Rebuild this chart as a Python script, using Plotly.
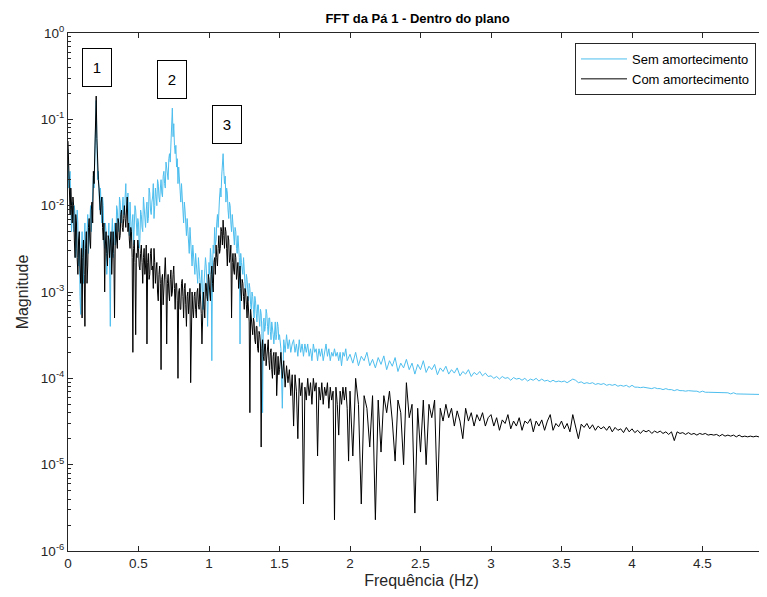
import numpy as np
import plotly.graph_objects as go

# ---------------- data ----------------
# frequency bins: 0-1.495 Hz every 0.005 Hz, 1.50-1.99 Hz every 0.01 Hz, 2.00-4.96 Hz every 0.02 Hz
seg_a_df, seg_a_n, seg_a_f0 = 0.005, 300, 0.0
seg_b_df, seg_b_n, seg_b_f0 = 0.01, 50, 1.5
seg_c_df, seg_c_n, seg_c_f0 = 0.02, 149, 2.0

# "Sem amortecimento" magnitudes, 0.000-1.495 Hz
sem_a = [
    4.5e-2, 1.6e-2, 2.0e-2, 2.5e-2, 1.0e-2, 5.0e-3, 1.1e-2, 6.3e-3, 5.0e-3, 1.0e-2,
    7.9e-3, 2.5e-3, 3.2e-3, 8.9e-3, 6.3e-3, 2.0e-3, 4.0e-3, 8.9e-4, 5.5e-4, 2.8e-3,
    5.0e-3, 2.0e-3, 1.26e-3, 4.0e-3, 6.3e-3, 2.0e-3, 3.2e-3, 5.6e-3, 7.9e-3, 2.8e-3,
    4.0e-3, 7.1e-3, 1.0e-2, 5.0e-3, 7.9e-3, 1.4e-2, 2.2e-2, 1.6e-2, 3.2e-2, 4.5e-2,
    1.65e-1, 5.0e-2, 2.0e-2, 2.5e-2, 1.26e-2, 8.9e-3, 1.6e-2, 1.0e-2, 6.3e-3, 1.26e-2,
    1.0e-2, 4.0e-3, 3.2e-3, 6.3e-3, 5.0e-3, 1.6e-3, 2.5e-3, 4.0e-3, 6.3e-3, 2.0e-3,
    4.0e-4, 3.2e-3, 5.0e-3, 7.1e-3, 2.5e-3, 4.0e-3, 6.3e-3, 3.5e-3, 4.0e-3, 1.0e-2,
    8.9e-3, 5.6e-3, 5.0e-3, 1.26e-2, 1.1e-2, 7.1e-3, 6.3e-3, 8.9e-3, 1.26e-2, 7.9e-3,
    7.9e-3, 1.26e-2, 1.8e-2, 8.9e-3, 1.0e-2, 1.4e-2, 6.3e-3, 4.5e-3, 1.1e-2, 7.1e-3,
    4.0e-3, 6.3e-3, 7.9e-3, 3.5e-3, 5.0e-3, 1.0e-2, 8.9e-3, 5.6e-3, 4.5e-3, 7.1e-3,
    6.3e-3, 3.2e-3, 4.0e-3, 8.9e-3, 7.9e-3, 5.6e-3, 5.0e-3, 1.26e-2, 1.0e-2, 6.3e-3,
    5.6e-3, 8.9e-3, 1.1e-2, 6.3e-3, 7.1e-3, 1.6e-2, 1.4e-2, 8.9e-3, 7.9e-3, 1.1e-2,
    1.26e-2, 1.8e-2, 7.1e-3, 1.0e-2, 1.6e-2, 1.26e-2, 1.0e-2, 2.0e-2, 1.8e-2, 1.26e-2,
    1.1e-2, 1.6e-2, 2.0e-2, 1.4e-2, 1.26e-2, 2.2e-2, 2.5e-2, 1.8e-2, 1.6e-2, 3.2e-2,
    2.8e-2, 2.2e-2, 2.0e-2, 3.5e-2, 4.0e-2, 3.2e-2, 5.6e-2, 7.9e-2, 1.35e-1, 6.3e-2,
    8.9e-2, 5.0e-2, 4.0e-2, 5.0e-2, 2.8e-2, 3.5e-2, 1.8e-2, 2.8e-2, 2.2e-2, 1.4e-2,
    1.1e-2, 1.8e-2, 1.4e-2, 8.9e-3, 6.3e-3, 1.1e-2, 8.9e-3, 5.6e-3, 4.5e-3, 7.1e-3,
    5.0e-3, 3.5e-3, 2.8e-3, 5.6e-3, 4.0e-3, 2.5e-3, 2.0e-3, 3.5e-3, 2.8e-3, 1.8e-3,
    1.6e-3, 2.8e-3, 2.2e-3, 1.4e-3, 1.26e-3, 2.5e-3, 2.0e-3, 1.4e-3, 1.0e-3, 1.6e-3,
    1.8e-3, 6.3e-4, 6.3e-4, 1.26e-3, 1.6e-3, 2.5e-3, 2.0e-3, 1.26e-3, 4.0e-4, 1.8e-3,
    2.2e-3, 1.6e-3, 3.2e-3, 2.5e-3, 1.6e-4, 2.0e-3, 3.5e-3, 2.8e-3, 5.6e-3, 3.5e-3,
    4.0e-3, 6.3e-3, 7.9e-3, 5.6e-3, 1.0e-2, 1.26e-2, 1.6e-2, 1.26e-2, 2.2e-2, 2.8e-2,
    4.0e-2, 2.5e-2, 1.8e-2, 2.2e-2, 1.1e-2, 1.6e-2, 1.4e-2, 8.9e-3, 7.1e-3, 1.1e-2,
    1.0e-2, 6.3e-3, 5.0e-3, 7.9e-3, 6.3e-3, 4.0e-3, 3.5e-3, 5.6e-3, 5.0e-3, 3.2e-3,
    2.8e-3, 4.5e-3, 3.5e-3, 2.5e-3, 2.5e-4, 2.8e-3, 2.2e-3, 1.8e-3, 1.6e-3, 2.5e-3,
    2.0e-3, 1.26e-3, 1.0e-3, 1.6e-3, 1.4e-3, 1.0e-3, 7.9e-4, 1.26e-3, 1.1e-3, 7.1e-4,
    6.3e-4, 1.0e-3, 8.9e-4, 6.3e-4, 5.0e-4, 8.9e-4, 7.9e-4, 5.6e-4, 4.5e-4, 7.1e-4,
    7.1e-4, 5.0e-4, 4.0e-4, 6.3e-4, 5.6e-4, 3.5e-4, 4.0e-5, 4.5e-4, 5.0e-4, 3.5e-4,
    4.0e-4, 6.3e-4, 5.6e-4, 4.0e-4, 3.2e-4, 5.0e-4, 5.0e-4, 3.5e-4, 2.8e-4, 4.5e-4,
    4.0e-4, 3.2e-4, 2.5e-4, 4.0e-4, 4.5e-4, 2.8e-4, 3.2e-4, 4.5e-4, 4.0e-4, 2.8e-4,
]

# "Com amortecimento" magnitudes, 0.000-1.495 Hz
com_a = [
    5.6e-2, 2.5e-2, 1.26e-2, 7.9e-3, 1.6e-2, 1.0e-2, 6.3e-3, 1.26e-2, 1.0e-2, 4.0e-3,
    2.5e-3, 7.9e-3, 6.3e-3, 2.5e-3, 1.6e-3, 4.0e-3, 5.0e-3, 2.0e-3, 1.26e-3, 3.2e-3,
    5.0e-4, 2.5e-3, 4.0e-3, 1.6e-3, 4.0e-4, 3.2e-3, 5.0e-3, 1.26e-3, 2.0e-3, 5.6e-3,
    7.1e-3, 4.0e-3, 3.2e-3, 8.9e-3, 1.1e-2, 6.3e-3, 2.5e-2, 1.8e-2, 5.0e-2, 7.0e-2,
    1.86e-1, 6.0e-2, 2.5e-2, 2.0e-2, 1.6e-2, 1.0e-2, 7.9e-3, 1.1e-2, 1.26e-2, 5.6e-3,
    4.0e-3, 6.3e-3, 1.0e-3, 3.5e-3, 5.0e-3, 2.8e-3, 2.0e-3, 4.5e-3, 4.0e-3, 2.5e-3,
    3.2e-3, 5.0e-3, 1.6e-3, 3.5e-3, 5.0e-3, 2.8e-3, 5.0e-4, 4.0e-3, 6.3e-3, 4.0e-3,
    3.2e-3, 7.1e-3, 6.3e-3, 4.0e-3, 4.5e-3, 7.9e-3, 8.9e-3, 5.6e-3, 5.0e-3, 7.1e-3,
    1.0e-2, 7.1e-3, 5.6e-3, 8.9e-3, 1.26e-2, 5.0e-3, 6.3e-3, 4.0e-3, 3.2e-3, 5.6e-3,
    5.0e-3, 2.5e-3, 2.0e-4, 3.2e-3, 4.0e-3, 2.2e-3, 3.2e-4, 2.8e-3, 2.5e-3, 4.0e-3,
    3.2e-3, 2.0e-3, 1.8e-3, 2.8e-3, 3.5e-3, 2.2e-3, 1.26e-3, 2.5e-3, 3.2e-3, 1.6e-3,
    2.0e-3, 3.5e-3, 2.5e-4, 2.2e-3, 2.8e-3, 1.4e-3, 1.6e-3, 2.8e-3, 3.2e-3, 1.8e-3,
    2.0e-3, 1.1e-3, 3.2e-3, 2.2e-3, 1.26e-3, 1.8e-3, 2.2e-3, 1.0e-3, 7.9e-4, 1.6e-3,
    2.0e-3, 1.26e-3, 1.26e-4, 1.4e-3, 1.6e-3, 7.1e-4, 1.0e-3, 2.0e-3, 2.5e-3, 1.4e-3,
    2.5e-4, 1.26e-3, 1.6e-3, 1.0e-3, 7.9e-4, 1.4e-3, 1.8e-3, 8.9e-4, 1.0e-3, 1.6e-3,
    2.0e-3, 1.1e-3, 6.3e-4, 1.26e-3, 1.26e-3, 7.9e-4, 1.0e-4, 1.0e-3, 1.1e-3, 6.3e-4,
    6.3e-4, 1.26e-3, 1.4e-3, 8.9e-4, 5.0e-4, 1.1e-3, 1.26e-3, 7.1e-4, 4.0e-4, 8.9e-4,
    1.0e-3, 5.6e-4, 7.1e-4, 1.1e-3, 8.9e-5, 7.9e-4, 1.0e-3, 6.3e-4, 5.0e-4, 8.9e-4,
    1.0e-3, 6.3e-4, 5.0e-4, 1.0e-3, 1.1e-3, 7.1e-4, 6.3e-4, 1.26e-3, 8.9e-4, 5.6e-4,
    2.5e-4, 8.9e-4, 1.0e-3, 7.1e-4, 5.0e-4, 1.26e-3, 1.26e-3, 8.9e-4, 7.9e-4, 1.6e-3,
    1.4e-3, 1.0e-3, 7.9e-4, 1.6e-3, 2.0e-3, 1.26e-3, 1.0e-3, 2.2e-3, 2.5e-3, 1.6e-3,
    3.5e-3, 2.5e-3, 2.0e-3, 3.2e-3, 4.5e-3, 2.8e-3, 3.2e-3, 5.6e-3, 5.0e-3, 3.5e-3,
    6.8e-3, 4.5e-3, 3.2e-3, 5.6e-3, 5.0e-3, 3.2e-3, 2.0e-3, 4.5e-3, 4.0e-3, 2.2e-3,
    2.5e-3, 3.5e-3, 5.0e-4, 2.2e-3, 2.8e-3, 1.8e-3, 1.6e-3, 2.8e-3, 2.5e-3, 1.4e-3,
    1.8e-3, 2.2e-3, 1.1e-3, 1.6e-3, 2.0e-3, 1.1e-3, 7.9e-4, 1.4e-3, 1.26e-3, 8.9e-4,
    6.3e-4, 1.1e-3, 1.0e-3, 7.1e-4, 5.0e-4, 8.9e-4, 7.1e-4, 4.5e-4, 4.0e-5, 6.3e-4,
    5.0e-4, 3.5e-4, 3.2e-4, 5.0e-4, 4.5e-4, 2.8e-4, 2.5e-4, 4.0e-4, 4.0e-4, 2.2e-4,
    2.0e-4, 3.5e-4, 3.2e-4, 2.5e-4, 1.6e-5, 2.2e-4, 2.8e-4, 1.8e-4, 1.6e-4, 2.5e-4,
    2.5e-4, 1.4e-4, 1.8e-4, 2.2e-4, 2.8e-4, 1.6e-4, 1.26e-4, 2.0e-4, 2.2e-4, 1.26e-4,
    1.0e-4, 1.8e-4, 2.0e-4, 1.1e-4, 1.4e-4, 2.0e-4, 6.3e-5, 1.4e-4, 1.8e-4, 1.1e-4,
]

# "Sem amortecimento" magnitudes, 1.50-1.99 Hz
sem_b = [
    3.2e-4, 2.2e-4, 4.5e-5, 2.8e-4, 2.0e-4, 3.2e-4, 2.2e-4, 2.8e-4, 2.0e-4, 2.5e-4,
    2.8e-4, 2.0e-4, 2.5e-4, 1.8e-4, 2.8e-4, 2.0e-4, 2.5e-4, 1.8e-4, 2.5e-4, 2.0e-4,
    2.5e-4, 1.8e-4, 2.2e-4, 1.6e-4, 2.5e-4, 2.0e-4, 2.2e-4, 1.6e-4, 2.2e-4, 1.8e-4,
    2.2e-4, 1.6e-4, 2.0e-4, 2.5e-4, 1.8e-4, 2.2e-4, 1.6e-4, 2.0e-4, 1.8e-4, 2.2e-4,
    1.8e-4, 2.0e-4, 1.6e-4, 2.0e-4, 1.4e-4, 2.0e-4, 1.8e-4, 2.2e-4, 1.6e-4, 1.8e-4,
]

# "Com amortecimento" magnitudes, 1.50-1.99 Hz
com_b = [
    1.26e-4, 2.0e-4, 1.0e-4, 1.6e-4, 7.9e-5, 1.4e-4, 8.9e-5, 1.26e-4, 6.3e-5, 1.1e-4,
    2.8e-5, 1.1e-4, 7.1e-5, 2.0e-5, 1.0e-4, 6.3e-5, 8.9e-5, 3.5e-6, 7.9e-5, 5.6e-5,
    1.0e-4, 6.3e-5, 8.9e-5, 5.0e-5, 1.0e-4, 7.1e-5, 8.9e-5, 1.26e-5, 7.9e-5, 5.6e-5,
    8.9e-5, 5.0e-5, 7.9e-5, 6.3e-5, 8.9e-5, 4.5e-5, 7.9e-5, 5.6e-5, 7.1e-5, 2.3e-6,
    7.9e-5, 5.0e-5, 2.2e-5, 7.1e-5, 5.0e-5, 7.9e-5, 5.6e-5, 7.9e-5, 4.5e-5, 1.1e-5,
]

# "Sem amortecimento" magnitudes, 2.00-4.96 Hz
sem_c = [
    1.9e-4, 1.5e-4, 2.0e-4, 1.4e-4, 1.8e-4, 1.6e-4, 2.0e-4, 1.4e-4, 1.66e-4, 1.32e-4,
    1.74e-4, 1.45e-4, 1.82e-4, 1.26e-4, 1.6e-4, 1.38e-4, 1.74e-4, 1.2e-4, 1.5e-4, 1.32e-4,
    1.66e-4, 1.26e-4, 1.5e-4, 1.12e-4, 1.45e-4, 1.26e-4, 1.6e-4, 1.17e-4, 1.38e-4, 1.26e-4,
    1.45e-4, 1.1e-4, 1.32e-4, 1.2e-4, 1.38e-4, 1.12e-4, 1.26e-4, 1.15e-4, 1.32e-4, 1.07e-4,
    1.2e-4, 1.12e-4, 1.26e-4, 1.05e-4, 1.17e-4, 1.1e-4, 1.2e-4, 1.07e-4, 1.15e-4, 1.05e-4,
    1.07e-4, 1.0e-4, 1.05e-4, 9.8e-5, 1.05e-4, 1.0e-4, 1.02e-4, 9.5e-5, 1.02e-4, 9.8e-5,
    1.0e-4, 9.5e-5, 1.0e-4, 9.3e-5, 9.8e-5, 9.5e-5, 1.0e-4, 9.3e-5, 9.8e-5, 9.3e-5,
    9.5e-5, 9.1e-5, 9.5e-5, 9.1e-5, 9.3e-5, 9.1e-5, 9.3e-5, 8.9e-5, 9.3e-5, 9.8e-5,
    9.5e-5, 8.9e-5, 9.1e-5, 8.7e-5, 8.9e-5, 8.7e-5, 8.9e-5, 8.5e-5, 8.7e-5, 8.5e-5,
    8.7e-5, 8.3e-5, 8.5e-5, 8.3e-5, 8.5e-5, 8.1e-5, 8.3e-5, 8.1e-5, 8.3e-5, 7.9e-5,
    8.3e-5, 7.9e-5, 7.9e-5, 7.8e-5, 7.9e-5, 7.8e-5, 7.8e-5, 7.6e-5, 7.8e-5, 7.6e-5,
    7.6e-5, 7.4e-5, 7.6e-5, 7.4e-5, 7.4e-5, 7.2e-5, 7.4e-5, 7.2e-5, 7.2e-5, 7.1e-5,
    7.2e-5, 7.1e-5, 7.1e-5, 7.1e-5, 6.9e-5, 7.1e-5, 6.9e-5, 6.9e-5, 6.9e-5, 6.8e-5,
    6.9e-5, 6.8e-5, 6.8e-5, 6.8e-5, 6.8e-5, 6.6e-5, 6.8e-5, 6.6e-5, 6.6e-5, 6.6e-5,
    6.6e-5, 6.5e-5, 6.6e-5, 6.5e-5, 6.5e-5, 6.5e-5, 6.5e-5, 6.3e-5, 6.3e-5,
]

# "Com amortecimento" magnitudes, 2.00-4.96 Hz
com_c = [
    7.1e-5, 1.26e-5, 1.0e-4, 5.0e-5, 3.5e-6, 6.3e-5, 4.5e-5, 1.6e-5, 6.3e-5, 2.3e-6,
    5.6e-5, 1.4e-5, 6.3e-5, 4.0e-5, 7.1e-5, 3.2e-5, 1.1e-5, 5.6e-5, 4.0e-5, 1.0e-5,
    8.9e-5, 3.5e-5, 5.0e-5, 2.75e-6, 4.5e-5, 1.4e-5, 5.6e-5, 1.0e-5, 5.0e-5, 3.5e-5,
    5.6e-5, 3.8e-6, 4.5e-5, 3.2e-5, 5.0e-5, 3.5e-5, 4.5e-5, 2.8e-5, 4.2e-5, 3.2e-5,
    2.0e-5, 4.5e-5, 3.2e-5, 4.0e-5, 2.8e-5, 3.8e-5, 3.2e-5, 4.0e-5, 2.8e-5, 3.5e-5,
    3.8e-5, 2.8e-5, 3.5e-5, 2.5e-5, 3.3e-5, 3.0e-5, 3.8e-5, 2.6e-5, 3.2e-5, 2.8e-5,
    3.5e-5, 2.5e-5, 3.2e-5, 3.0e-5, 3.4e-5, 2.4e-5, 3.2e-5, 2.8e-5, 3.3e-5, 2.5e-5,
    3.2e-5, 3.8e-5, 2.5e-5, 3.0e-5, 2.75e-5, 3.2e-5, 2.6e-5, 3.0e-5, 2.4e-5, 3.8e-5,
    2.8e-5, 2.0e-5, 2.95e-5, 2.7e-5, 3.0e-5, 2.6e-5, 2.9e-5, 2.5e-5, 2.8e-5, 2.6e-5,
    2.75e-5, 2.5e-5, 2.8e-5, 2.4e-5, 2.7e-5, 2.5e-5, 2.6e-5, 2.35e-5, 2.7e-5, 2.4e-5,
    2.6e-5, 2.35e-5, 2.5e-5, 2.3e-5, 2.5e-5, 2.4e-5, 2.5e-5, 2.3e-5, 2.45e-5, 2.35e-5,
    2.45e-5, 2.3e-5, 2.4e-5, 2.24e-5, 2.4e-5, 1.9e-5, 2.4e-5, 2.3e-5, 2.35e-5, 2.24e-5,
    2.35e-5, 2.24e-5, 2.3e-5, 2.2e-5, 2.3e-5, 2.24e-5, 2.3e-5, 2.2e-5, 2.24e-5, 2.2e-5,
    2.24e-5, 2.14e-5, 2.24e-5, 2.14e-5, 2.2e-5, 2.14e-5, 2.2e-5, 2.1e-5, 2.2e-5, 2.1e-5,
    2.14e-5, 2.1e-5, 2.14e-5, 2.1e-5, 2.14e-5, 2.1e-5, 2.14e-5, 2.1e-5, 2.1e-5,
]

x_tick_vals = [0, 0.5, 1, 1.5, 2, 2.5, 3, 3.5, 4, 4.5]
x_tick_text = ["0", "0.5", "1", "1.5", "2", "2.5", "3", "3.5", "4", "4.5"]
y_tick_exps = [-6, -5, -4, -3, -2, -1, 0]
series_names = ["Sem amortecimento", "Com amortecimento"]

# peak label boxes: (text, frequency, magnitude)
peak_labels = [("1", 0.209, 0.394), ("2", 0.741, 0.286), ("3", 1.128, 0.087)]

# -----------------------------------------------------------------------
assert len(sem_a) == seg_a_n and len(com_a) == seg_a_n
assert len(sem_b) == seg_b_n and len(com_b) == seg_b_n
assert len(sem_c) == seg_c_n and len(com_c) == seg_c_n

freq = np.concatenate([seg_a_f0 + np.arange(seg_a_n) * seg_a_df,
                       seg_b_f0 + np.arange(seg_b_n) * seg_b_df,
                       seg_c_f0 + np.arange(seg_c_n) * seg_c_df])
sem = np.array(sem_a + sem_b + sem_c)
com = np.array(com_a + com_b + com_c)

AX = "#262626"
FONT = "Arial, Liberation Sans, Helvetica, sans-serif"

# the page body has an 8 px margin: compensate so the axes land where the reference has them
OFF = 8
W, H = 767, 597
L, R, T, B = 68 - OFF, 0, 33 - OFF, 46 + OFF
PX_PER_HZ = 141

fig = go.Figure()
fig.add_trace(go.Scatter(x=freq, y=sem, mode="lines", name=series_names[0],
                         line=dict(color="#4DBEEE", width=1)))
fig.add_trace(go.Scatter(x=freq, y=com, mode="lines", name=series_names[1],
                         line=dict(color="#000000", width=1)))

for txt, fx, mag in peak_labels:
    fig.add_annotation(x=fx, y=np.log10(mag), xref="x", yref="y", text=txt,
                       showarrow=False, font=dict(family=FONT, size=15, color="black"),
                       bordercolor="black", borderwidth=1, borderpad=2,
                       bgcolor="white", width=24, height=33)

minor_vals = [m * 10.0 ** e for e in range(-6, 0) for m in range(2, 10)]
pw, ph = W - L - R, H - T - B

fig.update_layout(
    width=W, height=H,
    margin=dict(l=L, r=R, t=T, b=B, autoexpand=False),
    paper_bgcolor="white", plot_bgcolor="white",
    font=dict(family=FONT, color=AX, size=13),
    title=dict(text="<b>FFT da Pá 1 - Dentro do plano</b>", x=(417.5 - 68) / pw,
               xref="paper", xanchor="center", y=1 - (18 - OFF) / H, yanchor="middle",
               font=dict(size=13, color="black", family=FONT)),
    showlegend=True,
    legend=dict(x=(756 - 68) / pw, y=1 - (43 - 33) / ph, xanchor="right", yanchor="top",
                bordercolor=AX, borderwidth=1, bgcolor="white",
                font=dict(size=13, color="black", family=FONT),
                tracegroupgap=0, itemwidth=46),
    xaxis=dict(range=[0, pw / PX_PER_HZ], tickvals=x_tick_vals, ticktext=x_tick_text,
               automargin=False,
               ticks="inside", ticklen=5, tickwidth=1, tickcolor=AX,
               showline=True, linecolor=AX, linewidth=1, mirror="ticks",
               showgrid=False, zeroline=False,
               title=dict(text="Frequência (Hz)", font=dict(size=16, color=AX), standoff=4),
               tickfont=dict(size=13.5, color=AX)),
    yaxis=dict(type="log", range=[-6, 0], automargin=False,
               tickvals=[10.0 ** e for e in y_tick_exps],
               ticktext=["10<sup>%d</sup>" % e for e in y_tick_exps],
               ticks="inside", ticklen=5, tickwidth=1, tickcolor=AX,
               minor=dict(tickvals=minor_vals, ticks="inside", ticklen=3,
                          tickcolor=AX, showgrid=False),
               showline=True, linecolor=AX, linewidth=1, mirror=False,
               showgrid=False, zeroline=False,
               title=dict(text="Magnitude", font=dict(size=16, color=AX), standoff=8),
               tickfont=dict(size=13.5, color=AX)),
)

fig.write_html("out.html")
